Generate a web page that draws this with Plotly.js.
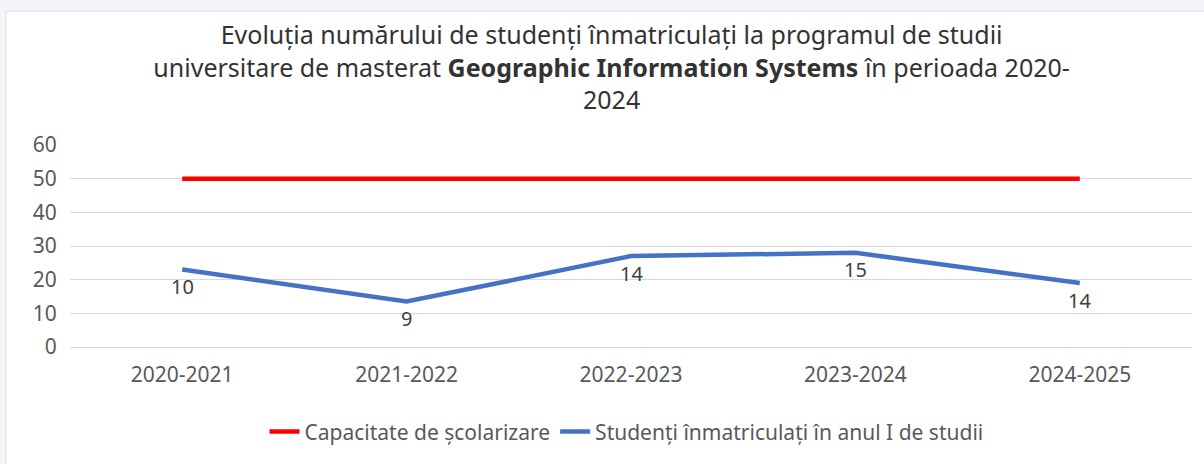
<!DOCTYPE html>
<html>
<head>
<meta charset="utf-8">
<script src="https://cdn.plot.ly/plotly-3.0.1.min.js"></script>
<style>
html,body{margin:0;padding:0;background:#fff;}
#chart{width:1204px;height:464px;}
</style>
</head>
<body>
<div id="chart"></div>
<script>
const categories = ["2020-2021", "2021-2022", "2022-2023", "2023-2024", "2024-2025"];
const capacity = [50, 50, 50, 50, 50];
const enrolledPlotted = [23, 13.5, 27, 28, 19];
const enrolledLabels = ["10", "9", "14", "15", "14"];
const seriesNames = ["Capacitate de școlarizare", "Studenți înmatriculați în anul I de studii"];
const yTicks = [0, 10, 20, 30, 40, 50, 60];
const titleText = "Evoluția numărului de studenți înmatriculați la programul de studii<br>universitare de masterat <b>Geographic Information Systems</b> în perioada 2020-<br>2024";

const FONT = "Noto Sans, Open Sans, sans-serif";

const traces = [
  {
    x: categories, y: capacity, name: seriesNames[0], type: "scatter", mode: "lines",
    line: {color: "#ff0000", width: 4.5}, hoverinfo: "skip"
  },
  {
    x: categories, y: enrolledPlotted, name: seriesNames[1], type: "scatter", mode: "lines",
    line: {color: "#4472c4", width: 4.5}, hoverinfo: "skip"
  }
];

// data labels placed below each point
const labelAnnotations = categories.map((c, i) => ({
  x: c, y: enrolledPlotted[i], xref: "x", yref: "y",
  text: enrolledLabels[i], showarrow: false,
  yanchor: "middle", yshift: -17,
  font: {family: FONT, size: 20, color: "#404040"}
}));

const layout = {
  width: 1204, height: 464,
  margin: {l: 70, r: 12, t: 145, b: 117},
  paper_bgcolor: "#ffffff", plot_bgcolor: "#ffffff",
  font: {family: FONT, color: "#595959", size: 20},
  title: {
    text: titleText, xref: "container", x: 0.508, xanchor: "center",
    yref: "container", y: 0.905, yanchor: "top",
    font: {family: FONT, size: 25, color: "#333333"}
  },
  xaxis: {
    type: "category", range: [-0.5, 4.5], showgrid: false, zeroline: false,
    showline: false, ticks: "outside", ticklen: 9, tickcolor: "rgba(0,0,0,0)",
    tickfont: {family: FONT, size: 21, color: "#595959"}, fixedrange: true
  },
  yaxis: {
    range: [0, 60], tickvals: yTicks, showgrid: true, gridcolor: "#d9d9d9", gridwidth: 1,
    zeroline: true, zerolinecolor: "#d9d9d9", zerolinewidth: 1, showline: false,
    ticks: "outside", ticklen: 8, tickcolor: "rgba(0,0,0,0)",
    tickfont: {family: FONT, size: 21, color: "#595959"}, fixedrange: true
  },
  showlegend: true,
  legend: {
    orientation: "h", xref: "paper", x: 0.496, xanchor: "center",
    yref: "paper", y: -0.42, yanchor: "middle",
    font: {family: FONT, size: 21, color: "#595959"},
    itemwidth: 30, tracegroupgap: 0, bgcolor: "rgba(0,0,0,0)"
  },
  annotations: labelAnnotations,
  shapes: [
    {type: "rect", xref: "paper", yref: "paper", x0: -0.07, x1: 1.02, y0: 1.663, y1: 1.72,
     fillcolor: "#f3f5f8", line: {width: 0}, layer: "below"},
    {type: "rect", xref: "paper", yref: "paper", x0: -0.07, x1: (6-70)/1122, y0: -0.6, y1: 1.72,
     fillcolor: "#f3f5f8", line: {width: 0}, layer: "below"},
    {type: "line", xref: "paper", yref: "paper", x0: (6-70)/1122, x1: 1.02, y0: 1.663, y1: 1.663,
     line: {color: "#dcdcdc", width: 1}, layer: "below"},
    {type: "line", xref: "paper", yref: "paper", x0: (6-70)/1122, x1: (6-70)/1122, y0: -0.6, y1: 1.663,
     line: {color: "#dcdcdc", width: 1}, layer: "below"}
  ]
};

Plotly.newPlot("chart", traces, layout, {displayModeBar: false, staticPlot: true});
</script>
</body>
</html>
